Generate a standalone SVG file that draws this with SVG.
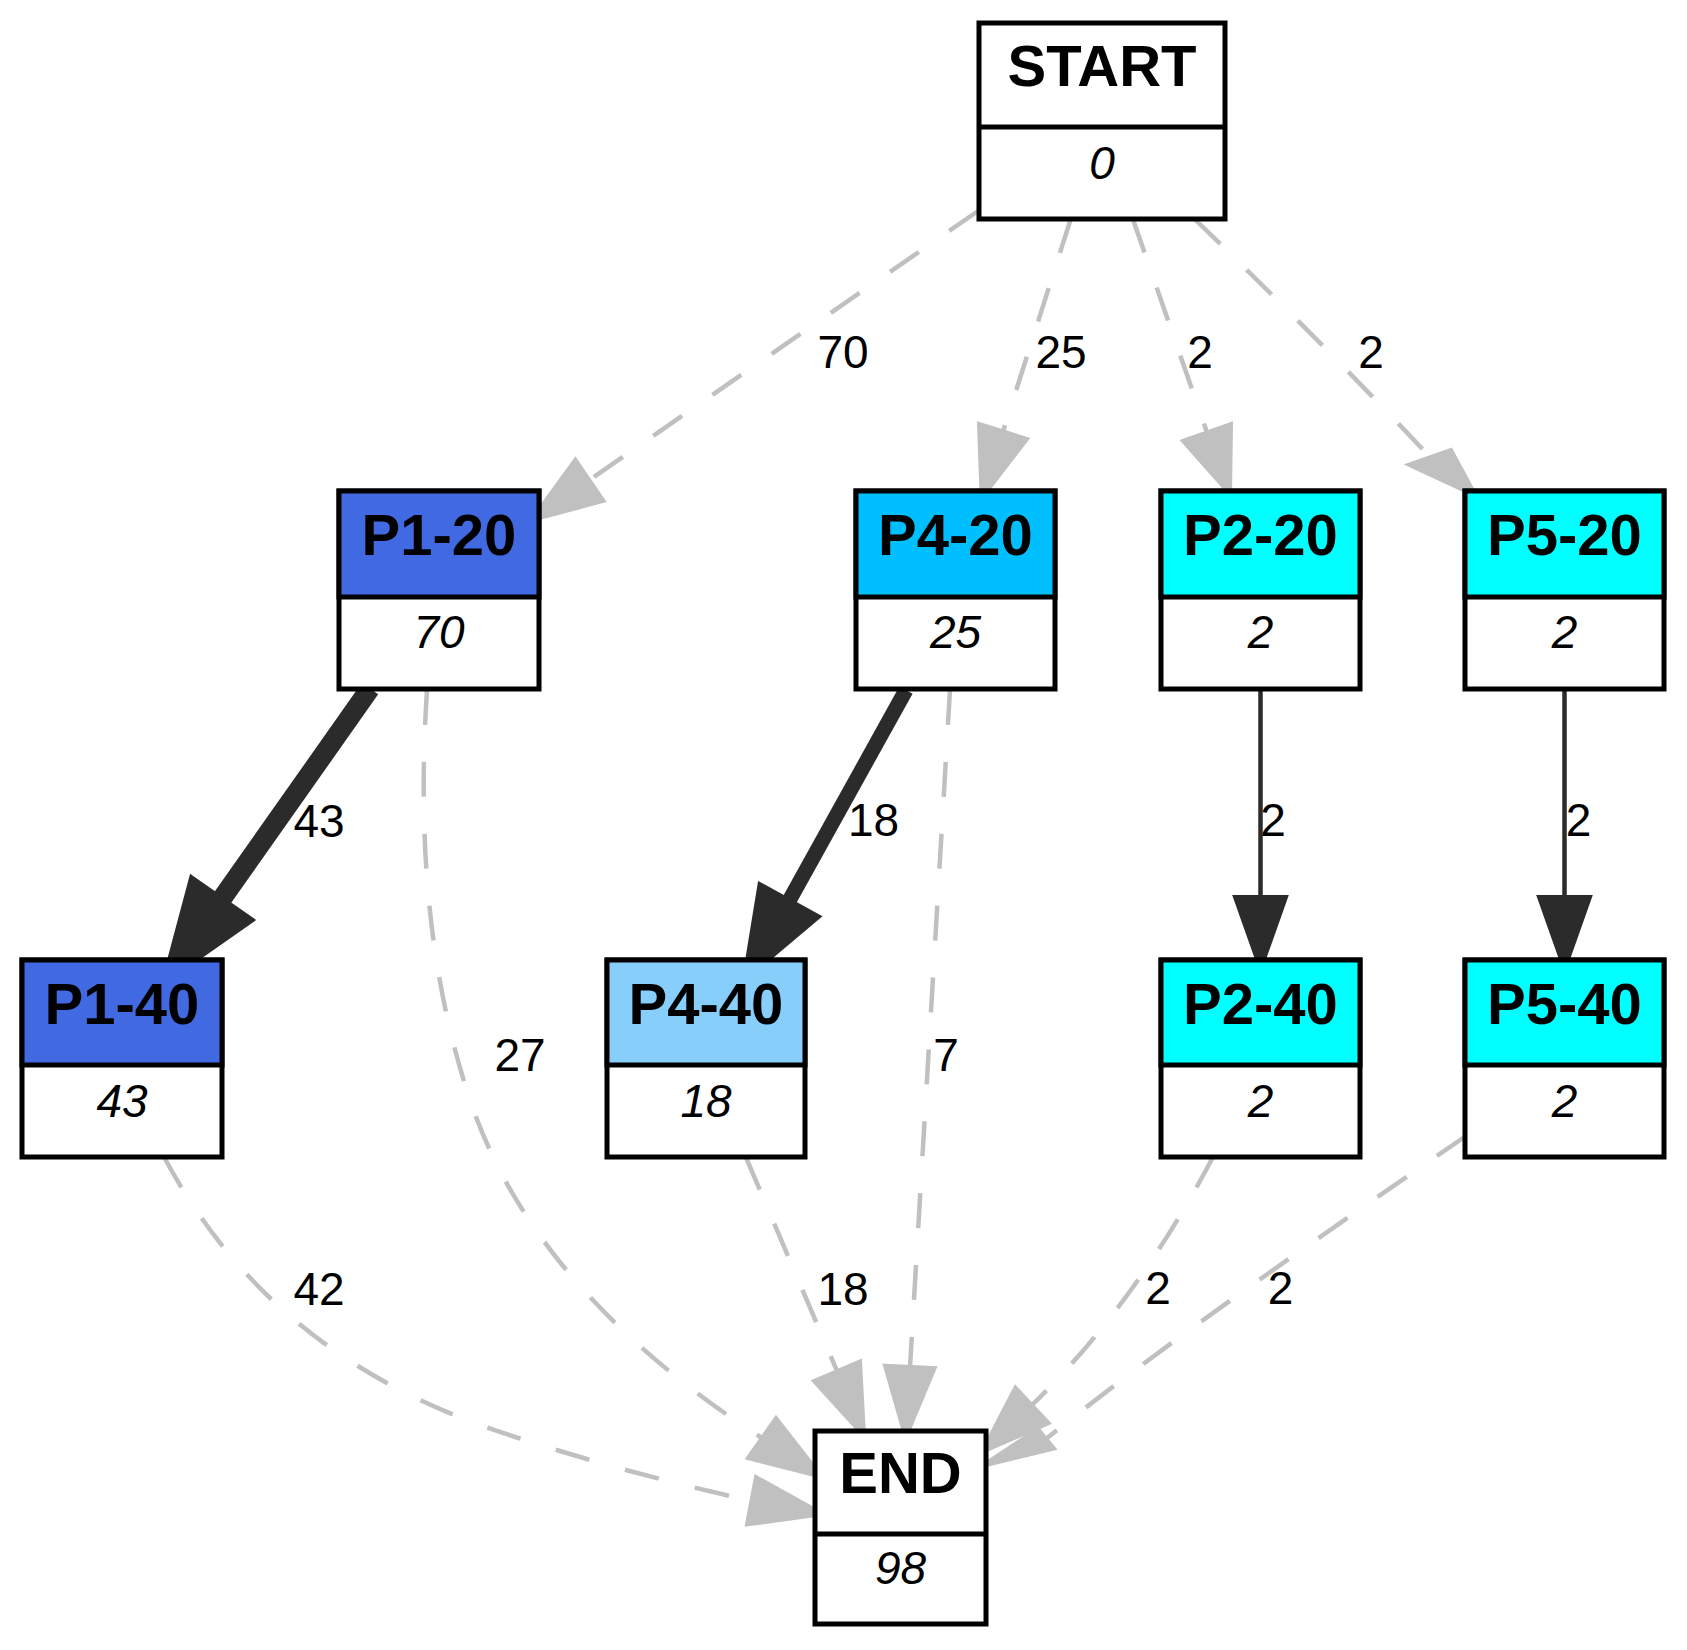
<svg xmlns="http://www.w3.org/2000/svg" width="1687" height="1650" viewBox="0 0 1687 1650">
<style>
.box{fill:#ffffff;stroke:#000000;stroke-width:5}
.div{stroke:#000000;stroke-width:5}
.ttl{font-family:"Liberation Sans",Arial,sans-serif;font-weight:bold;font-size:58px;fill:#000000;text-anchor:middle}
.num{font-family:"Liberation Sans",Arial,sans-serif;font-style:italic;font-size:46px;fill:#000000;text-anchor:middle}
.lbl{font-family:"Liberation Sans",Arial,sans-serif;font-size:46px;fill:#000000;text-anchor:middle}
.dash{fill:none;stroke:#c0c0c0;stroke-width:4.5;stroke-dasharray:35,37}
.dhead{fill:#c0c0c0;stroke:#c0c0c0;stroke-width:4}
.solid{fill:none;stroke:#2b2b2b}
.shead{fill:#2b2b2b;stroke:#2b2b2b;stroke-width:4}
</style>
<rect width="1687" height="1650" fill="#ffffff"/>
<g id="connectors">
  <!-- START -> P1-20 -->
  <path class="dash" d="M978,211 L589.5,480"/>
  <polygon class="dhead" points="575.4,459.8 603.5,500.9 531.6,520"/>
  <text class="lbl" x="843" y="368">70</text>
  <!-- START -> P4-20 -->
  <path class="dash" d="M1070.6,219.5 L1003,431.5"/>
  <polygon class="dhead" points="979,424 1027,439 981.7,498"/>
  <text class="lbl" x="1061" y="368">25</text>
  <!-- START -> P2-20 -->
  <path class="dash" d="M1133,219.5 L1207,432.5"/>
  <polygon class="dhead" points="1183,441 1231,424 1230,494"/>
  <text class="lbl" x="1200" y="368">2</text>
  <!-- START -> P5-20 -->
  <path class="dash" d="M1195,219.5 Q1320,340 1430,457"/>
  <polygon class="dhead" points="1409,464.7 1451,450 1475.6,495.6"/>
  <text class="lbl" x="1371" y="368">2</text>
  <!-- P1-20 -> P1-40 -->
  <path class="solid" stroke-width="20" d="M370,688.6 L222,898.6"/>
  <polygon class="shead" points="191.3,877.1 252.7,920 163,983"/>
  <text class="lbl" x="319" y="837">43</text>
  <!-- P1-20 -> END -->
  <path class="dash" d="M427,690 C420,800 420,950 470,1100 C520,1250 640,1360 762,1438"/>
  <polygon class="dhead" points="748,1458 776,1418 821.8,1476.8"/>
  <text class="lbl" x="520" y="1071">27</text>
  <!-- P4-20 -> P4-40 -->
  <path class="solid" stroke-width="15" d="M906,690 L789.3,900.4"/>
  <polygon class="shead" points="759.6,884 819,916.7 743.9,980"/>
  <text class="lbl" x="873.5" y="836">18</text>
  <!-- P4-20 -> END -->
  <path class="dash" d="M950,690 L910,1367"/>
  <polygon class="dhead" points="885,1365.7 934.6,1368 905.6,1437.4"/>
  <text class="lbl" x="946" y="1071">7</text>
  <!-- P2-20 -> P2-40 -->
  <path class="solid" stroke-width="4.5" d="M1260.5,690 L1260.5,897"/>
  <polygon class="shead" points="1235,897 1286,897 1260.5,969"/>
  <text class="lbl" x="1273" y="836">2</text>
  <!-- P5-20 -> P5-40 -->
  <path class="solid" stroke-width="4.5" d="M1564.5,690 L1564.5,897"/>
  <polygon class="shead" points="1539,897 1590,897 1564.5,969"/>
  <text class="lbl" x="1578.5" y="836">2</text>
  <!-- P1-40 -> END -->
  <path class="dash" d="M164,1157 C230,1280 330,1370 480,1425 C580,1460 680,1485 751.5,1500.8"/>
  <polygon class="dhead" points="756,1477 747,1524.5 822.7,1514"/>
  <text class="lbl" x="319" y="1305">42</text>
  <!-- P4-40 -> END -->
  <path class="dash" d="M746,1157.5 L837,1371"/>
  <polygon class="dhead" points="814,1381 860,1361.5 864,1436"/>
  <text class="lbl" x="843" y="1305">18</text>
  <!-- P2-40 -> END -->
  <path class="dash" d="M1213,1157 C1180,1220 1120,1320 1032,1405"/>
  <polygon class="dhead" points="1015.4,1387.6 1048.6,1423 982,1452"/>
  <text class="lbl" x="1158" y="1304">2</text>
  <!-- P5-40 -> END -->
  <path class="dash" d="M1466,1136 C1300,1250 1150,1355 1046,1439"/>
  <polygon class="dhead" points="1038,1429 1054,1448.6 982,1466"/>
  <text class="lbl" x="1280.6" y="1304">2</text>
</g>
<g id="START">
  <rect class="box" x="979" y="23" width="246" height="196"/>
  <line class="div" x1="979" y1="127" x2="1225" y2="127"/>
  <text class="ttl" x="1102" y="86">START</text>
  <text class="num" x="1102" y="179">0</text>
</g>
<g id="P1-20">
  <rect class="box" x="339" y="491" width="200" height="198"/>
  <rect x="339" y="491" width="200" height="106" fill="#4169e1" stroke="#000000" stroke-width="5"/>
  <text class="ttl" x="439" y="555">P1-20</text>
  <text class="num" x="439" y="648">70</text>
</g>
<g id="P4-20">
  <rect class="box" x="856" y="491" width="199" height="198"/>
  <rect x="856" y="491" width="199" height="106" fill="#00bfff" stroke="#000000" stroke-width="5"/>
  <text class="ttl" x="955.5" y="555">P4-20</text>
  <text class="num" x="955.5" y="648">25</text>
</g>
<g id="P2-20">
  <rect class="box" x="1161" y="491" width="199" height="198"/>
  <rect x="1161" y="491" width="199" height="106" fill="#00ffff" stroke="#000000" stroke-width="5"/>
  <text class="ttl" x="1260.5" y="555">P2-20</text>
  <text class="num" x="1260.5" y="648">2</text>
</g>
<g id="P5-20">
  <rect class="box" x="1465" y="491" width="199" height="198"/>
  <rect x="1465" y="491" width="199" height="106" fill="#00ffff" stroke="#000000" stroke-width="5"/>
  <text class="ttl" x="1564.5" y="555">P5-20</text>
  <text class="num" x="1564.5" y="648">2</text>
</g>
<g id="P1-40">
  <rect class="box" x="22" y="960" width="200" height="197"/>
  <rect x="22" y="960" width="200" height="105" fill="#4169e1" stroke="#000000" stroke-width="5"/>
  <text class="ttl" x="122" y="1024">P1-40</text>
  <text class="num" x="122" y="1117">43</text>
</g>
<g id="P4-40">
  <rect class="box" x="607" y="960" width="198" height="197"/>
  <rect x="607" y="960" width="198" height="105" fill="#87cefa" stroke="#000000" stroke-width="5"/>
  <text class="ttl" x="706" y="1024">P4-40</text>
  <text class="num" x="706" y="1117">18</text>
</g>
<g id="P2-40">
  <rect class="box" x="1161" y="960" width="199" height="197"/>
  <rect x="1161" y="960" width="199" height="105" fill="#00ffff" stroke="#000000" stroke-width="5"/>
  <text class="ttl" x="1260.5" y="1024">P2-40</text>
  <text class="num" x="1260.5" y="1117">2</text>
</g>
<g id="P5-40">
  <rect class="box" x="1465" y="960" width="199" height="197"/>
  <rect x="1465" y="960" width="199" height="105" fill="#00ffff" stroke="#000000" stroke-width="5"/>
  <text class="ttl" x="1564.5" y="1024">P5-40</text>
  <text class="num" x="1564.5" y="1117">2</text>
</g>
<g id="END">
  <rect class="box" x="815" y="1431" width="171" height="193"/>
  <line class="div" x1="815" y1="1534" x2="986" y2="1534"/>
  <text class="ttl" x="900.5" y="1493">END</text>
  <text class="num" x="900.5" y="1584">98</text>
</g>
</svg>
